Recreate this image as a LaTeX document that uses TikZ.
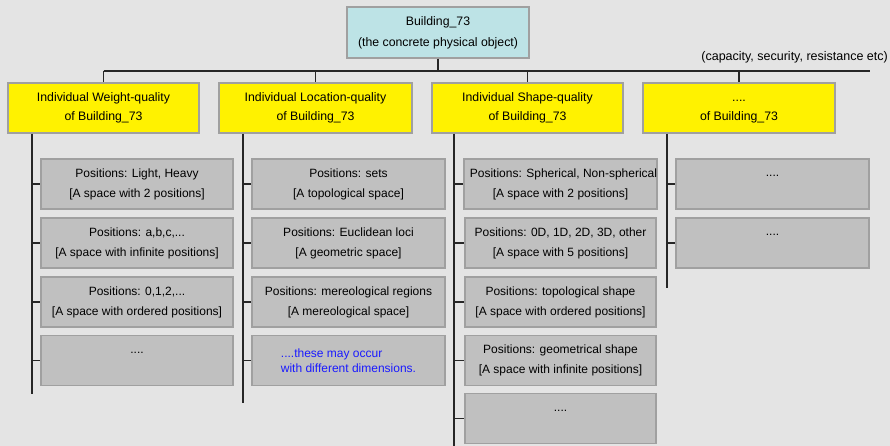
\documentclass[tikz,border=0pt]{standalone}
\usepackage{fontspec}
\setmainfont{Liberation Sans}
\definecolor{bgc}{HTML}{E4E4E4}
\definecolor{topc}{HTML}{BDE3E6}
\definecolor{boxline}{HTML}{A0A0A0}
\definecolor{greyc}{HTML}{C0C0C0}
\definecolor{bluetxt}{HTML}{1A1AFF}
\newcommand{\dotsline}{\vphantom{Pg}....\\\vphantom{[]}}
\begin{document}
\begin{tikzpicture}[x=1pt,y=-1pt,
  base/.style={draw=boxline,line width=1.5pt,inner sep=0pt,align=center,
    font=\fontsize{12.3}{19}\selectfont},
  topbox/.style={base,fill=topc,minimum width=182pt,minimum height=51pt,font=\fontsize{12.3}{21}\selectfont},
  qual/.style={base,fill=yellow,minimum height=50pt},
  posbox/.style={base,fill=greyc,minimum height=50pt,font=\fontsize{12}{20}\selectfont},
  wire/.style={line width=1.2pt,draw=black!85}]
\fill[bgc] (0,0) rectangle (890,446);
\useasboundingbox (0,0) rectangle (890,446);

\node[topbox] (top) at (438,32.5) {Building\_73\\(the concrete physical object)};

\node[qual,minimum width=191pt] (q1) at (103.5,108) {Individual Weight-quality\\of Building\_73};
\node[qual,minimum width=193pt] (q2) at (315.5,108) {Individual Location-quality\\of Building\_73};
\node[qual,minimum width=191pt] (q3) at (527.5,108) {Individual Shape-quality\\of Building\_73};
\node[qual,minimum width=192pt] (q4) at (739,108) {\vphantom{Ig}....\\of Building\_73};

\node[font=\fontsize{12.5}{14}\selectfont,anchor=east,inner sep=0pt] (note) at (888,57) {(capacity, security, resistance etc)};

% column 1
\node[posbox,minimum width=192pt] (a1) at (137,184) {Positions: Light, Heavy\\{}[A space with 2 positions]};
\node[posbox,minimum width=192pt] (a2) at (137,243) {Positions: a,b,c,...\\{}[A space with infinite positions]};
\node[posbox,minimum width=192pt] (a3) at (137,302) {Positions: 0,1,2,...\\{}[A space with ordered positions]};
\node[posbox,minimum width=192pt] (a4) at (137,360.5) {\dotsline};
% column 2
\node[posbox,minimum width=193pt] (b1) at (348.5,184) {Positions: sets\\{}[A topological space]};
\node[posbox,minimum width=193pt] (b2) at (348.5,243) {Positions: Euclidean loci\\{}[A geometric space]};
\node[posbox,minimum width=193pt] (b3) at (348.5,302) {Positions: mereological regions\\{}[A mereological space]};
\node[posbox,minimum width=193pt,text=bluetxt,align=left,font=\fontsize{12}{15}\selectfont] (b4) at (348.5,360.5) {....these may occur\\with different dimensions.};
% column 3
\node[posbox,minimum width=191pt] (c1) at (560.5,184) {\hspace*{6pt}Positions: Spherical, Non-spherical\\{}[A space with 2 positions]};
\node[posbox,minimum width=191pt] (c2) at (560.5,243) {Positions: 0D, 1D, 2D, 3D, other\\{}[A space with 5 positions]};
\node[posbox,minimum width=191pt] (c3) at (560.5,302) {Positions: topological shape\\{}[A space with ordered positions]};
\node[posbox,minimum width=191pt] (c4) at (560.5,360.5) {Positions: geometrical shape\\{}[A space with infinite positions]};
\node[posbox,minimum width=191pt] (c5) at (560.5,418.5) {\dotsline};
% column 4
\node[posbox,minimum width=193pt] (d1) at (772.5,184) {\dotsline};
\node[posbox,minimum width=193pt] (d2) at (772.5,243) {\dotsline};

% bus
\coordinate (bus) at (438,71);
\coordinate (busend) at (870,71);
\draw[wire] (top.south) -- (bus);
\draw[wire] (q1.north |- bus) -- (busend);
\foreach \q in {q1,q2,q3,q4} \draw[wire] (\q.north |- bus) -- (\q.north);

% spines
\coordinate (s1) at (32,394);
\coordinate (s2) at (243,403);
\coordinate (s3) at (454,446);
\coordinate (s4) at (667,288);
\draw[wire] (q1.south -| s1) -- (s1);
\draw[wire] (q2.south -| s2) -- (s2);
\draw[wire] (q3.south -| s3) -- (s3);
\draw[wire] (q4.south -| s4) -- (s4);
\foreach \n in {a1,a2,a3,a4} \draw[wire] (\n.west -| s1) -- (\n.west);
\foreach \n in {b1,b2,b3,b4} \draw[wire] (\n.west -| s2) -- (\n.west);
\foreach \n in {c1,c2,c3,c4,c5} \draw[wire] (\n.west -| s3) -- (\n.west);
\foreach \n in {d1,d2} \draw[wire] (\n.west -| s4) -- (\n.west);
\end{tikzpicture}
\end{document}
